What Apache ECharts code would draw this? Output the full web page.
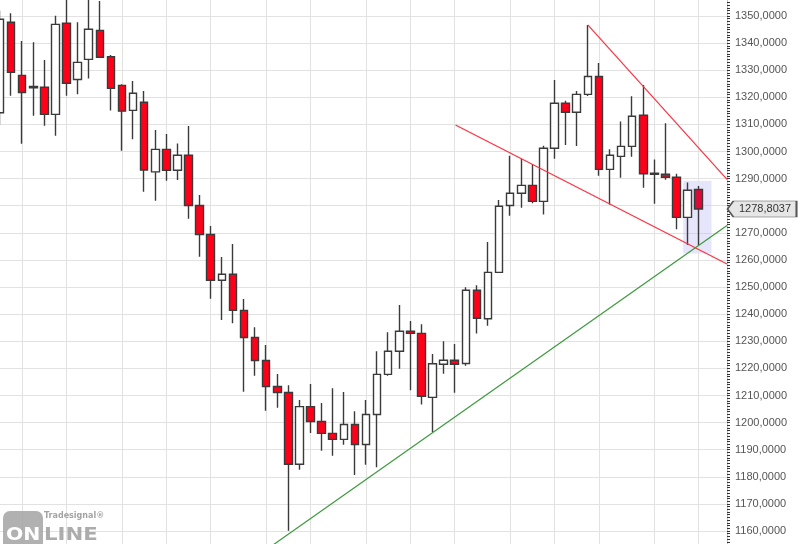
<!DOCTYPE html>
<html>
<head>
<meta charset="utf-8">
<script src="https://cdn.jsdelivr.net/npm/echarts@6/dist/echarts.min.js"></script>
<style>
html,body{margin:0;padding:0;background:#fff;}
#c{width:800px;height:544px;}
</style>
</head>
<body>
<div id="c"></div>
<script>
// ---- data (weekly candles) ----
const opens  = [1314.3,1347.7,1328.1,1324.0,1323.7,1313.7,1347.3,1326.6,1334.0,1344.7,1335.0,1324.4,1315.2,1318.2,1292.5,1300.8,1293.1,1298.6,1280.1,1269.4,1252.5,1254.7,1241.4,1231.4,1222.9,1213.3,1211.1,1184.6,1205.9,1200.4,1196.0,1193.8,1199.3,1191.9,1203.0,1217.8,1226.3,1233.7,1232.9,1209.3,1221.5,1223.0,1221.8,1248.8,1238.3,1255.4,1280.1,1284.6,1287.5,1281.6,1301.2,1317.8,1314.5,1321.1,1327.7,1293.4,1298.2,1301.9,1313.4,1292.0,1291.6,1290.5,1275.7,1286.0];
const closes = [1348.8,1329.2,1321.8,1323.5,1313.7,1346.9,1325.2,1332.9,1345.1,1334.8,1323.3,1314.9,1321.5,1293.2,1300.8,1293.1,1298.6,1280.1,1269.4,1252.5,1254.7,1241.4,1231.4,1222.9,1213.3,1211.1,1184.6,1205.9,1200.4,1196.0,1193.8,1199.3,1191.9,1203.0,1217.8,1226.3,1233.7,1232.9,1209.7,1221.7,1223.0,1221.5,1248.8,1238.5,1255.4,1279.8,1284.6,1287.5,1281.6,1301.2,1317.8,1314.5,1321.1,1327.7,1293.4,1298.6,1301.9,1313.0,1291.8,1291.6,1290.5,1275.7,1285.7,1278.8037];
const lows   = [1310.0,1320.6,1302.9,1313.2,1309.5,1305.8,1320.6,1321.1,1326.9,1334.8,1315.1,1300.3,1304.5,1285.2,1281.8,1289.2,1289.5,1275.2,1261.2,1245.7,1237.8,1236.6,1211.4,1217.3,1204.4,1205.5,1160.1,1182.6,1196.2,1189.6,1187.8,1191.8,1180.7,1184.4,1183.5,1217.3,1219.9,1211.9,1206.7,1196.5,1218.0,1211.0,1221.0,1232.9,1235.7,1255.4,1276.3,1279.3,1280.9,1276.8,1297.3,1302.4,1302.0,1320.5,1291.1,1280.5,1290.3,1298.1,1286.6,1280.7,1289.6,1271.3,1265.5,1265.5];
const highs  = [1352.0,1351.0,1340.8,1340.3,1333.8,1350.1,1357.0,1347.7,1357.0,1355.5,1335.6,1324.8,1326.0,1322.3,1307.9,1306.5,1303.0,1309.4,1284.0,1272.5,1261.1,1265.9,1245.6,1235.2,1228.6,1217.9,1213.8,1208.3,1214.2,1207.2,1212.7,1211.3,1204.2,1208.3,1226.3,1233.3,1243.4,1237.5,1236.3,1225.3,1230.0,1229.0,1249.9,1250.7,1266.6,1282.1,1298.4,1297.2,1295.4,1302.1,1326.4,1318.7,1322.3,1346.7,1332.7,1300.8,1311.1,1320.4,1324.5,1297.1,1310.4,1291.8,1288.6,1287.3];
// candle indices where a new month starts (vertical grid lines)
const monthStartIdx = [2,6,11,15,19,24,28,33,37,41,46,50,54,59,63];
// trend lines: [candle index, price]
const trendSupport    = [[24.6,1154.8],[65.55,1272.7]];
const trendUpper      = [[53.0,1346.7],[65.55,1289.7]];
const trendLower      = [[41.07,1309.8],[65.55,1258.5]];
// highlighted zone [idx, price] corners
const zoneCorners = [[61.6,1289.2],[64.15,1262.4]];
// y axis ticks
const yMin = 1150, yMax = 1360, yStep = 10;

const XMAX = 65.55;
const fmt = v => v.toFixed(4).replace('.', ',');

const candleData = opens.map((o,i) => {
  const item = {value:[i, o, closes[i], lows[i], highs[i]]};
  if (i === opens.length - 1) item.itemStyle = {color0:'#dc0a3a', color:'#dc0a3a'};
  return item;
});
const lastIdx = opens.length - 1;
const lastClose = closes[lastIdx];

const chart = echarts.init(document.getElementById('c'), null, {renderer:'canvas'});
chart.setOption({
  animation:false,
  backgroundColor:'#ffffff',
  grid:{left:0, right:73, top:-11.1, bottom:-14.1, outerBoundsMode:'none', containLabel:false},
  xAxis:{type:'value', min:0, max:XMAX, show:true,
    axisLine:{show:false, onZero:false}, axisTick:{show:false}, axisLabel:{show:false}, splitLine:{show:false}},
  yAxis:{type:'value', position:'right', min:yMin, max:yMax, interval:yStep, scale:true,
    axisLine:{show:true, onZero:false, lineStyle:{color:'#f0b0b0', width:1}},
    axisTick:{show:true, length:3, lineStyle:{color:'#333', width:1}},
    minorTick:{show:true, splitNumber:10, length:3, lineStyle:{color:'#333', width:1}},
    axisLabel:{show:true, margin:8, color:'#555', fontSize:11, fontFamily:'Liberation Sans',
      formatter: v => fmt(v)},
    splitLine:{show:true, lineStyle:{color:'#e2e2e2', width:1}}
  },
  graphic:[
    {type:'rect', left:3, top:511, shape:{width:40, height:40, r:7}, style:{fill:'#a3a3a3', opacity:0.85}, z:100},
    {type:'text', x:6, y:527, scaleX:1.2, style:{text:'ON', fill:'#ffffff', font:'bold 17px "DejaVu Sans"'}, z:101},
    {type:'text', x:44, y:527, scaleX:1.25, style:{text:'LINE', fill:'#a3a3a3', font:'bold 17px "DejaVu Sans"', opacity:0.9}, z:101},
    {type:'text', x:44, y:512, style:{text:'Tradesignal®', fill:'#a3a3a3', font:'bold 8px "DejaVu Sans"'}, z:101}
  ],
  series:[
    {type:'line', name:'monthGrid', data:[], silent:true, z:1,
      markLine:{silent:true, z:1, symbol:['none','none'], label:{show:false},
        lineStyle:{color:'#e2e2e2', width:1, type:'solid'},
        data: monthStartIdx.map(i => ({xAxis:i}))},
      markArea:{silent:true, z:1, itemStyle:{color:'rgba(190,190,245,0.4)'},
        data:[[{coord:zoneCorners[0]},{coord:zoneCorners[1]}]]}
    },
    {type:'candlestick', name:'price', barWidth:8, z:3,
      encode:{x:0, y:[1,2,3,4]},
      itemStyle:{color:'#ffffff', color0:'#ff0019', borderColor:'#3a3a3a', borderColor0:'#3a3a3a', borderWidth:1.4},
      data:candleData,
      markPoint:{silent:true, animation:false, z:10,
        data:[{coord:[XMAX, lastClose], value:lastClose,
          symbol:'path://M0,8L6,0L70,0L70,16L6,16Z', symbolSize:[69,16], symbolOffset:[35,0],
          itemStyle:{color:'#e6e6e6', borderColor:'#555', borderWidth:1},
          label:{show:true, position:'inside', offset:[3,0], color:'#333', fontSize:11, fontFamily:'Liberation Sans',
            formatter: () => fmt(lastClose)}}]}
    },
    {type:'line', name:'support', data:trendSupport, showSymbol:false, silent:true, z:4,
      lineStyle:{color:'#3c9a3c', width:1.2}},
    {type:'line', name:'upper', data:trendUpper, showSymbol:false, silent:true, z:4,
      lineStyle:{color:'#ff3040', width:1.2}},
    {type:'line', name:'lower', data:trendLower, showSymbol:false, silent:true, z:4,
      lineStyle:{color:'#ff3040', width:1.2}}
  ]
});
</script>
</body>
</html>
